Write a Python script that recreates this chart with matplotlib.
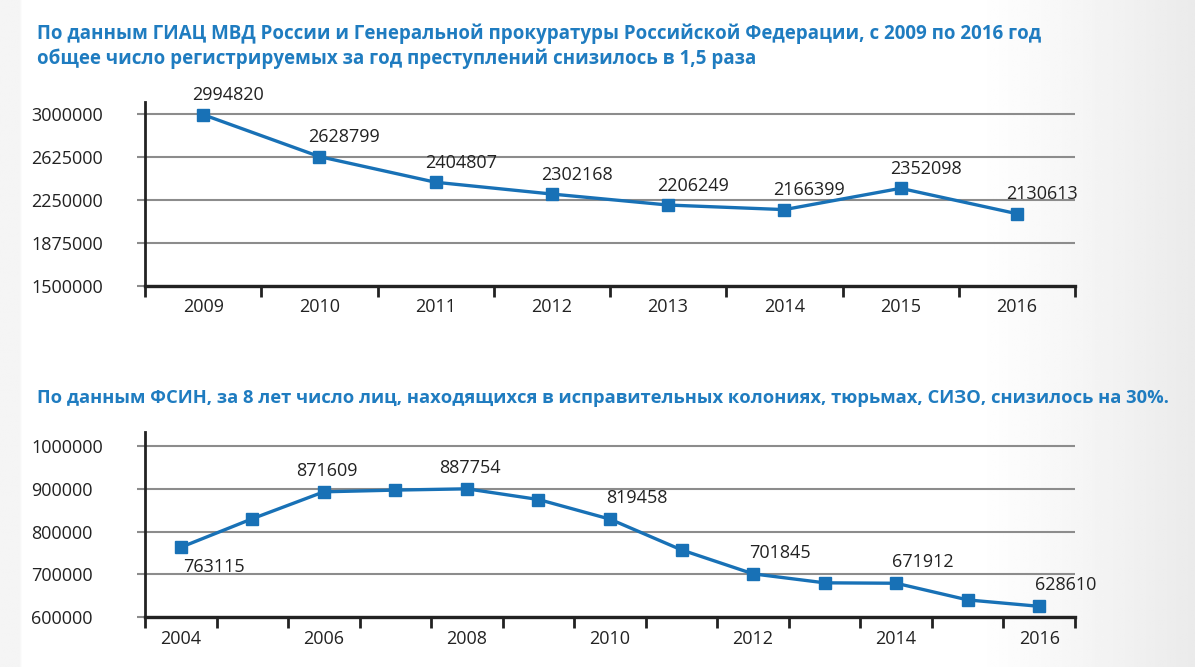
import numpy as np
import matplotlib
matplotlib.use("Agg")
import matplotlib.pyplot as plt

plt.rcParams["font.family"] = ["Open Sans", "DejaVu Sans"]

# --- Data ---
title_top = ("По данным ГИАЦ МВД России и Генеральной прокуратуры Российской Федерации, с 2009 по 2016 год\n"
             "общее число регистрируемых за год преступлений снизилось в 1,5 раза")
title_bottom = ("По данным ФСИН, за 8 лет число лиц, находящихся в исправительных колониях, "
                "тюрьмах, СИЗО, снизилось на 30%.")

years_top = [2009, 2010, 2011, 2012, 2013, 2014, 2015, 2016]
crimes = [2994820, 2628799, 2404807, 2302168, 2206249, 2166399, 2352098, 2130613]
yticks_top = [1500000, 1875000, 2250000, 2625000, 3000000]

years_bottom = [2004, 2005, 2006, 2007, 2008, 2009, 2010,
                2011, 2012, 2013, 2014, 2015, 2016]
prisoners = [763115, 830000, 893000, 897000, 900000, 875000, 829000,
             757000, 701000, 680000, 679000, 640000, 625000]
# labelled points: index -> printed value
labels_bottom = {0: "763115", 2: "871609", 4: "887754", 6: "819458",
                 8: "701845", 10: "671912", 12: "628610"}
yticks_bottom = [600000, 700000, 800000, 900000, 1000000]

BLUE_T = "#1f7cc0"
BLUE_L = "#1871b6"
W, H = 1195, 667

fig = plt.figure(figsize=(W / 100, H / 100), dpi=100)

# background: soft grey toward the right and a thin grey strip on the left
bg = fig.add_axes([0, 0, 1, 1], zorder=-10)
xs = np.linspace(0, 1, 400)
row = np.ones_like(xs)
row = np.where(xs > 0.82, 1 - 0.08 * np.clip((xs - 0.82) / 0.18, 0, 1), row)
row = np.where(xs < 0.017, 0.958, row)
img = np.tile(row, (50, 1))
bg.imshow(img, cmap="gray", vmin=0, vmax=1, aspect="auto",
          extent=[0, 1, 0, 1], interpolation="bilinear")
bg.axis("off")


def px_axes(left, top, right, bottom):
    return fig.add_axes([left / W, 1 - bottom / H, (right - left) / W, (bottom - top) / H])


def style(ax, n, yticks):
    ax.set_facecolor("none")
    ax.set_xlim(-0.5, n - 0.5)
    for s in ["top", "right"]:
        ax.spines[s].set_visible(False)
    ax.spines["left"].set_linewidth(2)
    ax.spines["bottom"].set_linewidth(2.4)
    ax.spines["left"].set_color("#222222")
    ax.spines["bottom"].set_color("#222222")
    ax.set_yticks(yticks)
    ax.set_yticklabels([str(v) for v in yticks])
    ax.grid(axis="y", color="#8c8c8c", linewidth=1.5)
    ax.set_axisbelow(True)
    ax.tick_params(axis="y", length=6, width=1.5, color="#8c8c8c", pad=76,
                   labelsize=13, labelcolor="#222222")
    plt.setp(ax.get_yticklabels(), ha="left")
    # ticks at category boundaries, labels at centres
    ax.set_xticks(np.arange(-0.5, n), minor=True)
    ax.tick_params(axis="x", which="minor", length=8, width=2, color="#222222",
                   direction="out")
    ax.tick_params(axis="x", which="major", length=0, pad=9,
                   labelsize=13, labelcolor="#222222")


# --- Top chart ---
fig.text(37 / W, 1 - 46 / H, title_top, color=BLUE_T, fontsize=13.5, fontweight="bold",
         va="center", ha="left", linespacing=1.3)

ax1 = px_axes(145, 102, 1075, 286)
n1 = len(years_top)
x1 = np.arange(n1)
ax1.plot(x1, crimes, color=BLUE_L, linewidth=2.4, marker="s", markersize=8.5, zorder=3)
ax1.set_ylim(1500000, 3105000)
style(ax1, n1, yticks_top)
ax1.set_xticks(x1)
ax1.set_xticklabels([str(y) for y in years_top])
for xi, v in zip(x1, crimes):
    ax1.annotate(str(v), (xi, v), xytext=(18, 14), textcoords="offset points",
                 ha="center", va="center", fontsize=13, color="#222222")

# --- Bottom chart ---
fig.text(37 / W, 1 - 398 / H, title_bottom, color=BLUE_T, fontsize=13.2, fontweight="bold",
         va="center", ha="left")

ax2 = px_axes(145, 432, 1075, 617)
n2 = len(years_bottom)
x2 = np.arange(n2)
ax2.plot(x2, prisoners, color=BLUE_L, linewidth=2.4, marker="s", markersize=8.5, zorder=3)
ax2.set_ylim(600000, 1033000)
style(ax2, n2, yticks_bottom)
ax2.set_xticks(x2[::2])
ax2.set_xticklabels([str(y) for y in years_bottom[::2]])
for i, txt in labels_bottom.items():
    dy = -14 if i == 0 else 15
    dx = 24 if i == 0 else (2 if i in (2, 4) else 19)
    ax2.annotate(txt, (x2[i], prisoners[i]), xytext=(dx, dy), textcoords="offset points",
                 ha="center", va="center", fontsize=13, color="#222222")

fig.savefig("out.png", dpi=100)
